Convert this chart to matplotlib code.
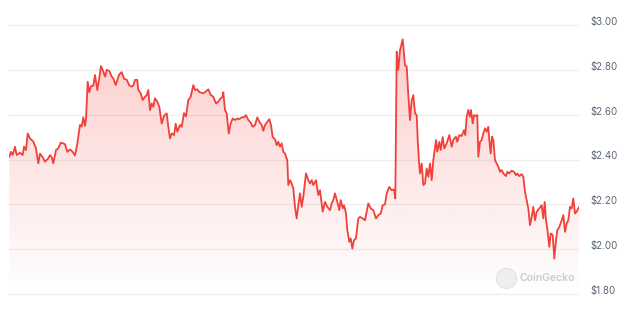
import numpy as np
import matplotlib
matplotlib.use("Agg")
import matplotlib.pyplot as plt
from matplotlib.path import Path
from matplotlib.patches import PathPatch
import matplotlib.transforms as mtransforms

# time index (arbitrary sampling units) and price in USD
t = [0.3, 2, 3.7, 6, 7.7, 11, 13.7, 15, 17, 18.7, 21, 24.3, 27, 29.3, 31, 33.7, 36, 39.3, 41, 42.7,
     44.3, 47, 49.3, 51.7, 54.3, 56, 58.3, 61, 63.7, 66, 68.3, 71, 72.7, 74.3, 76, 77, 78.7, 80.3, 82, 84.3,
     86, 88.3, 90, 92, 94.3, 96, 97.7, 100.3, 102.7, 104.3, 106.7, 108.3, 110.3, 112.7, 115, 117.7, 120.3, 122.7, 124.3, 126,
     128.3, 129.3, 131.7, 133.7, 136, 137.7, 139.3, 141, 142.7, 144.3, 146, 148.3, 150.3, 152.7, 155, 157.7, 159.3, 161, 162.7, 165,
     166.7, 168.3, 171, 172.7, 175, 177, 179.3, 181.7, 184.3, 186, 188.3, 190.3,
     191, 194.3, 196, 199.3, 201.7, 204.3, 207, 209.3, 211.7, 213.7, 214.3, 216, 217.7, 219.7, 221.7, 223.7, 226, 228.3, 230.3, 232.7,
     235, 237, 239.3, 241.7, 243.7, 246, 248.3, 250.3, 252.7, 254.3, 256, 257.7, 260.3, 262, 263.7, 266, 267.7, 269.3, 271, 272.7,
     274.3, 276, 277, 278.3, 279.3, 281, 282.7, 284.3, 286, 287.7, 289.3, 291, 292.7, 294.3, 297, 299.3, 301, 302.7, 304.3, 307,
     309.3, 311, 313.7, 316, 318.3, 321, 322.7, 324.3, 326, 328.3, 330.3, 331.7, 333.7, 335, 337, 338.3, 340.3, 341.7, 343.3, 345,
     347, 349.3, 351, 353.7, 356, 359.3, 361.7, 364.3, 367, 369.3, 371.7, 373.7, 376, 377.7, 380.3, 382.7, 385, 386.3, 387.7, 389.3,
     391, 393.7, 396, 397.7, 399.3, 401, 402.7, 404.3, 406, 407.7, 408.7, 410, 411, 412.7, 414.3, 416, 417.7, 419.3, 421, 422.7,
     424.3, 427, 428.3, 430.3, 431.7, 433.7, 435.3, 437.7, 440.3, 442.7, 444.3, 447, 448.3, 450.3, 452.7, 455, 456.3, 457.7, 459.3, 461,
     462, 463.7, 465, 467, 468.3, 469.3, 471, 472.7, 474.3, 476, 477.7, 479.3, 480.3, 481.7, 483, 484.3, 486, 487.7, 489.3, 491,
     492.7, 494.3, 497, 498.3, 500.3, 502.7, 505, 507, 508.3, 510.3, 512.7, 514.3, 516, 517.7, 519.3, 521, 522.7, 524.3, 526, 527.7,
     530.3, 532.7, 534.3, 535.7, 537, 538.3, 540.3, 541.7, 543.7, 545.3, 547, 548.3, 550.3, 552.7, 554.3, 556, 557.7, 559.3, 561, 562.7,
     564.3, 566, 567.7, 569.3, 570.3]
price = [2.412, 2.434, 2.420, 2.457, 2.420, 2.430, 2.420, 2.457, 2.442, 2.516, 2.494, 2.480, 2.450, 2.383, 2.426, 2.410, 2.390, 2.405, 2.420, 2.410,
         2.383, 2.442, 2.450, 2.475, 2.472, 2.468, 2.434, 2.445, 2.434, 2.418, 2.470, 2.554, 2.547, 2.588, 2.550, 2.580, 2.747, 2.700, 2.727, 2.730,
         2.777, 2.710, 2.755, 2.817, 2.792, 2.770, 2.800, 2.795, 2.770, 2.762, 2.732, 2.755, 2.780, 2.790, 2.760, 2.756, 2.730, 2.725, 2.730, 2.755,
         2.755, 2.710, 2.695, 2.665, 2.680, 2.687, 2.710, 2.620, 2.650, 2.635, 2.673, 2.658, 2.635, 2.560, 2.595, 2.606, 2.546, 2.494, 2.516, 2.509,
         2.560, 2.524, 2.554, 2.546, 2.607, 2.592, 2.665, 2.680, 2.732, 2.710, 2.713, 2.700,
         2.700, 2.695, 2.700, 2.713, 2.688, 2.680, 2.650, 2.658, 2.673, 2.680, 2.700, 2.620, 2.606, 2.516, 2.561, 2.583, 2.576, 2.583, 2.580, 2.588,
         2.588, 2.598, 2.576, 2.564, 2.546, 2.554, 2.588, 2.569, 2.554, 2.528, 2.554, 2.564, 2.580, 2.554, 2.500, 2.490, 2.464, 2.479, 2.457, 2.472,
         2.434, 2.427, 2.412, 2.397, 2.286, 2.308, 2.293, 2.271, 2.189, 2.137, 2.196, 2.249, 2.189, 2.234, 2.338, 2.308, 2.293, 2.308, 2.286, 2.308,
         2.241, 2.263, 2.167, 2.211, 2.189, 2.174, 2.204, 2.219, 2.249, 2.211, 2.174, 2.219, 2.182, 2.196, 2.159, 2.085, 2.033, 2.048, 2.003, 2.040,
         2.048, 2.137, 2.144, 2.137, 2.129, 2.204, 2.182, 2.174, 2.137, 2.152, 2.159, 2.196, 2.200, 2.249, 2.278, 2.263, 2.266, 2.226, 2.881, 2.800,
         2.888, 2.936, 2.820, 2.815, 2.688, 2.576, 2.665, 2.687, 2.606, 2.598, 2.487, 2.390, 2.338, 2.382, 2.286, 2.293, 2.360, 2.323, 2.382, 2.308,
         2.397, 2.487, 2.435, 2.479, 2.442, 2.500, 2.449, 2.472, 2.509, 2.457, 2.487, 2.502, 2.479, 2.509, 2.505, 2.531, 2.509, 2.591, 2.621, 2.591,
         2.621, 2.561, 2.598, 2.594, 2.598, 2.412, 2.479, 2.487, 2.516, 2.539, 2.524, 2.546, 2.487, 2.427, 2.502, 2.487, 2.397, 2.382, 2.368, 2.345,
         2.353, 2.338, 2.326, 2.345, 2.338, 2.350, 2.345, 2.330, 2.338, 2.326, 2.335, 2.323, 2.256, 2.219, 2.182, 2.107, 2.144, 2.189, 2.129, 2.167,
         2.182, 2.196, 2.137, 2.211, 2.129, 2.092, 2.010, 2.070, 2.063, 1.958, 2.040, 2.085, 2.099, 2.129, 2.152, 2.077, 2.115, 2.129, 2.189, 2.182,
         2.226, 2.159, 2.167, 2.182, 2.189]

y_ticks = [1.80, 2.00, 2.20, 2.40, 2.60, 2.80, 3.00]
y_labels = ["$1.80", "$2.00", "$2.20", "$2.40", "$2.60", "$2.80", "$3.00"]

LINE = "#f2403a"
W, H = 624, 323
fig = plt.figure(figsize=(W / 100, H / 100), dpi=100)
ax = fig.add_axes([9.3 / W, 29 / H, 570 / W, 269 / H])
t0, t1 = min(t), max(t)
ymin, ymax = y_ticks[0], y_ticks[-1]
ax.set_xlim(t0, t1)
ax.set_ylim(ymin, ymax)
for s in ax.spines.values():
    s.set_visible(False)
ax.set_xticks([])
ax.set_yticks([])
ax.patch.set_alpha(0)

for v in y_ticks:
    ax.axhline(v, color="#eeeeee", lw=0.9, zorder=0, clip_on=False)

# gradient fill
n = 256
rgba = np.zeros((n, 1, 4))
rgba[..., 0] = 244 / 255
rgba[..., 1] = 65 / 255
rgba[..., 2] = 58 / 255
rgba[:, 0, 3] = np.linspace(0.0, 0.28, n)
im = ax.imshow(rgba, extent=[t0, t1, ymin, ymax], origin="lower", aspect="auto",
               zorder=1, interpolation="bilinear")
verts = np.column_stack([t, price]).tolist() + [[t1, ymin], [t0, ymin]]
path = Path(verts + [verts[0]], closed=True)
patch = PathPatch(path, facecolor="none", edgecolor="none", transform=ax.transData)
ax.add_patch(patch)
im.set_clip_path(patch)

ax.plot(t, price, color=LINE, lw=1.3, zorder=3, solid_joinstyle="round")

# y labels on the right
offset = mtransforms.ScaledTranslation(11.5 / 100, 3 / 100, fig.dpi_scale_trans)
trans = mtransforms.blended_transform_factory(ax.transAxes, ax.transData) + offset
for v, lab in zip(y_ticks, y_labels):
    ax.text(1.0, v, lab, transform=trans, ha="left", va="center",
            fontsize=7, color="#5b6675", family="Inter")

# watermark
ax.plot([(506 - 9.3) / 570], [(294 - 277.7) / 269], "o", transform=ax.transAxes,
        ms=14.5, mfc="#eeeeee", mec="#e3e3e3", mew=0.8, clip_on=False, zorder=4)
ax.text((520 - 9.3) / 570, (294 - 277.7) / 269, "CoinGecko", transform=ax.transAxes,
        ha="left", va="center", fontsize=7.5, color="#cccccc", family="Inter",
        fontweight="semibold", zorder=4)

fig.savefig("out.png", dpi=100)
